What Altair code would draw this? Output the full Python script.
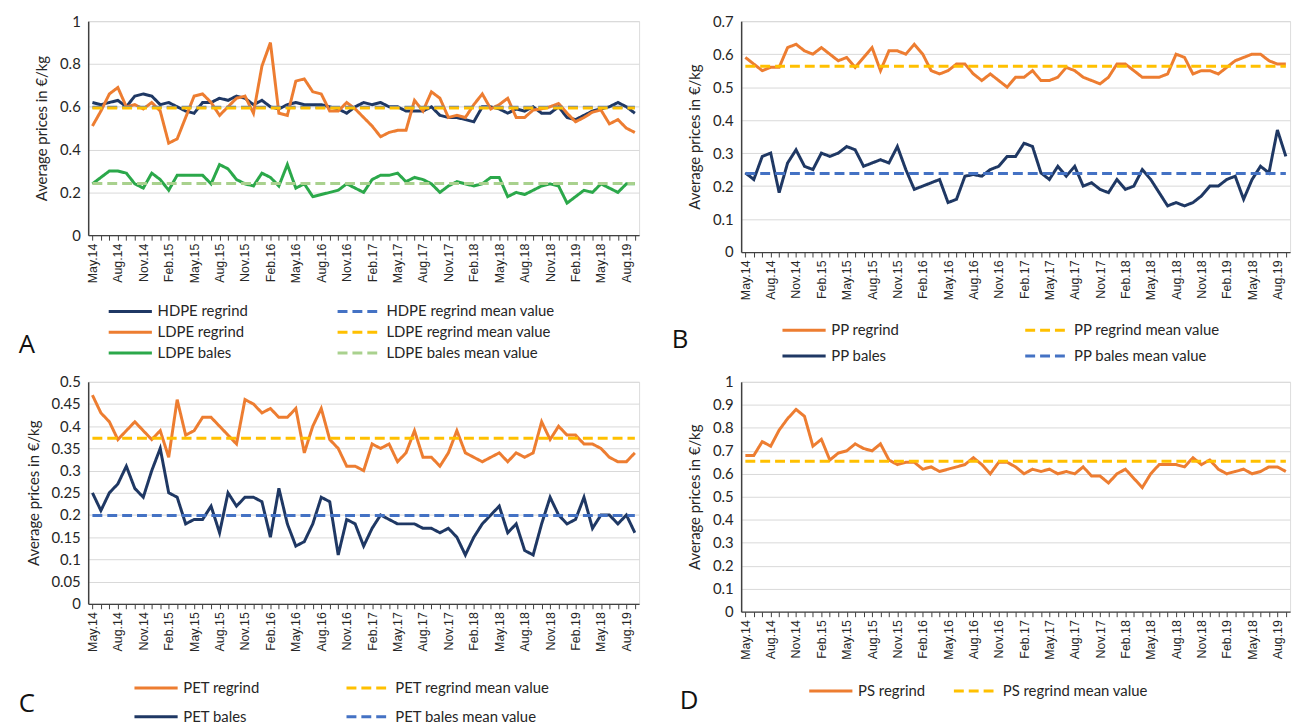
import json
import altair as alt
import pandas as pd

# ---------------- data ----------------
tick_labels = ["May.14", "Aug.14", "Nov.14", "Feb.15", "May.15", "Aug.15", "Nov.15", "Feb.16",
               "May.16", "Aug.16", "Nov.16", "Feb.17", "May.17", "Aug.17", "Nov.17", "Feb.18",
               "May.18", "Aug.18", "Nov.18", "Feb.19", "May.18", "Aug.19"]
n_months = 65  # May.14 ... Sep.19

hdpe_regrind = [0.62, 0.61, 0.62, 0.63, 0.60, 0.65, 0.66, 0.65, 0.61, 0.62, 0.60, 0.58, 0.57, 0.62, 0.62,
                0.64, 0.63, 0.65, 0.64, 0.61, 0.63, 0.60, 0.59, 0.61, 0.62, 0.61, 0.61, 0.61, 0.60, 0.59,
                0.57, 0.60, 0.62, 0.61, 0.62, 0.60, 0.60, 0.58, 0.58, 0.58, 0.60, 0.56, 0.55, 0.55, 0.54,
                0.53, 0.60, 0.60, 0.59, 0.57, 0.59, 0.58, 0.60, 0.57, 0.57, 0.60, 0.55, 0.54, 0.56, 0.58,
                0.59, 0.60, 0.62, 0.60, 0.57]
ldpe_regrind = [0.51, 0.58, 0.66, 0.69, 0.60, 0.61, 0.59, 0.62, 0.58, 0.43, 0.45, 0.55, 0.65, 0.66, 0.62,
                0.56, 0.60, 0.64, 0.65, 0.57, 0.79, 0.90, 0.57, 0.56, 0.72, 0.73, 0.67, 0.66, 0.58, 0.58,
                0.62, 0.59, 0.55, 0.51, 0.46, 0.48, 0.49, 0.49, 0.63, 0.58, 0.67, 0.64, 0.55, 0.56, 0.55,
                0.61, 0.66, 0.59, 0.61, 0.64, 0.55, 0.55, 0.585, 0.59, 0.60, 0.615, 0.57, 0.53, 0.55, 0.575,
                0.585, 0.52, 0.54, 0.50, 0.48]
ldpe_bales = [0.24, 0.27, 0.30, 0.30, 0.29, 0.24, 0.22, 0.29, 0.26, 0.21, 0.28, 0.28, 0.28, 0.28, 0.24,
              0.33, 0.31, 0.26, 0.24, 0.23, 0.29, 0.27, 0.23, 0.33, 0.22, 0.24, 0.18, 0.19, 0.20, 0.21,
              0.24, 0.22, 0.20, 0.26, 0.28, 0.28, 0.29, 0.25, 0.27, 0.26, 0.24, 0.20, 0.23, 0.25, 0.24,
              0.23, 0.24, 0.27, 0.27, 0.18, 0.20, 0.19, 0.21, 0.23, 0.24, 0.23, 0.15, 0.18, 0.21, 0.20,
              0.24, 0.22, 0.20, 0.24, 0.24]
a_means = [0.598, 0.594, 0.242]

pp_regrind = [0.59, 0.57, 0.55, 0.56, 0.56, 0.62, 0.63, 0.61, 0.60, 0.62, 0.60, 0.58, 0.59, 0.56, 0.59,
              0.62, 0.55, 0.61, 0.61, 0.60, 0.63, 0.60, 0.55, 0.54, 0.55, 0.57, 0.57, 0.54, 0.52, 0.54,
              0.52, 0.50, 0.53, 0.53, 0.55, 0.52, 0.52, 0.53, 0.56, 0.55, 0.53, 0.52, 0.51, 0.53, 0.57,
              0.57, 0.55, 0.53, 0.53, 0.53, 0.54, 0.60, 0.59, 0.54, 0.55, 0.55, 0.54, 0.56, 0.58, 0.59,
              0.60, 0.60, 0.58, 0.57, 0.57]
pp_bales = [0.24, 0.22, 0.29, 0.30, 0.18, 0.27, 0.31, 0.26, 0.25, 0.30, 0.29, 0.30, 0.32, 0.31, 0.26,
            0.27, 0.28, 0.27, 0.32, 0.25, 0.19, 0.20, 0.21, 0.22, 0.15, 0.16, 0.23, 0.235, 0.23, 0.25,
            0.26, 0.29, 0.29, 0.33, 0.32, 0.24, 0.22, 0.26, 0.23, 0.26, 0.20, 0.21, 0.19, 0.18, 0.22,
            0.19, 0.20, 0.25, 0.22, 0.18, 0.14, 0.15, 0.14, 0.15, 0.17, 0.20, 0.20, 0.22, 0.23, 0.16,
            0.22, 0.26, 0.24, 0.37, 0.29]
b_means = [0.563, 0.238]

pet_regrind = [0.47, 0.43, 0.41, 0.37, 0.39, 0.41, 0.39, 0.37, 0.39, 0.33, 0.46, 0.38, 0.39, 0.42, 0.42,
               0.40, 0.38, 0.36, 0.46, 0.45, 0.43, 0.44, 0.42, 0.42, 0.44, 0.34, 0.40, 0.44, 0.37, 0.35,
               0.31, 0.31, 0.30, 0.36, 0.35, 0.36, 0.32, 0.34, 0.39, 0.33, 0.33, 0.31, 0.34, 0.39, 0.34,
               0.33, 0.32, 0.33, 0.34, 0.32, 0.34, 0.33, 0.34, 0.41, 0.37, 0.40, 0.38, 0.38, 0.36, 0.36,
               0.35, 0.33, 0.32, 0.32, 0.34]
pet_bales = [0.25, 0.21, 0.25, 0.27, 0.31, 0.26, 0.24, 0.30, 0.35, 0.25, 0.24, 0.18, 0.19, 0.19, 0.22,
             0.16, 0.25, 0.22, 0.24, 0.24, 0.23, 0.15, 0.26, 0.18, 0.13, 0.14, 0.18, 0.24, 0.23, 0.11,
             0.19, 0.18, 0.13, 0.17, 0.20, 0.19, 0.18, 0.18, 0.18, 0.17, 0.17, 0.16, 0.17, 0.15, 0.11,
             0.15, 0.18, 0.20, 0.22, 0.16, 0.18, 0.12, 0.11, 0.18, 0.24, 0.20, 0.18, 0.19, 0.24, 0.17,
             0.20, 0.20, 0.18, 0.20, 0.16]
c_means = [0.373, 0.199]

ps_regrind = [0.68, 0.68, 0.74, 0.72, 0.79, 0.84, 0.88, 0.85, 0.72, 0.75, 0.66, 0.69, 0.70, 0.73, 0.71,
              0.70, 0.73, 0.66, 0.64, 0.65, 0.65, 0.62, 0.63, 0.61, 0.62, 0.63, 0.64, 0.67, 0.64, 0.60,
              0.65, 0.65, 0.63, 0.60, 0.62, 0.61, 0.62, 0.60, 0.61, 0.60, 0.63, 0.59, 0.59, 0.56, 0.60,
              0.62, 0.58, 0.54, 0.60, 0.64, 0.64, 0.64, 0.63, 0.67, 0.64, 0.66, 0.62, 0.60, 0.61, 0.62,
              0.60, 0.61, 0.63, 0.63, 0.61]
d_means = [0.655]

NAVY = "#1F3864"
ORANGE = "#ED7D31"
GREEN = "#2BA84A"
YELLOW = "#FFC000"
BLUE = "#4472C4"
LGREEN = "#A9D18E"
SOLID = [1, 0]
DASH = [10, 5]

label_expr = "datum.value % 3 === 0 ? " + json.dumps(tick_labels) + "[datum.value / 3] : ''"
TXT = "#262626"


def panel(series, means, colors, ytick_values, ymax, width, height,
          legend_x, legend_y, col_pad, row_pad, letter, letter_x, letter_y):
    rows = []
    for name, vals in series:
        for i, v in enumerate(vals):
            rows.append({"series": name, "idx": i, "value": v})
    df = pd.DataFrame(rows)
    mdf = pd.DataFrame([{"series": n, "value": v, "x0": 0, "x1": n_months - 1} for n, v in means])

    order = []
    dashes = []
    for (sn, _), (mn, _) in zip(series, means):
        order += [sn, mn]
        dashes += [SOLID, DASH]

    legend = alt.Legend(title=None, orient="none", legendX=legend_x, legendY=legend_y,
                        direction="horizontal", columns=2, symbolType="stroke", symbolSize=1900,
                        symbolStrokeWidth=3, clipHeight=16, labelFont="Lato", labelFontSize=15,
                        labelColor=TXT, labelLimit=300, columnPadding=col_pad, rowPadding=row_pad,
                        labelOffset=4)
    color = alt.Color("series:N", scale=alt.Scale(domain=order, range=colors), legend=legend)
    dash = alt.StrokeDash("series:N", scale=alt.Scale(domain=order, range=dashes), legend=legend)

    xenc = alt.X("idx:Q", scale=alt.Scale(domain=[-0.5, n_months - 0.5], nice=False, zero=False),
                 axis=alt.Axis(values=list(range(n_months)), tickCount=200, labelExpr=label_expr,
                               labelAngle=270, grid=False, title=None, labelOverlap=False,
                               tickColor="#404040", tickSize=5, domainColor="#404040", domainWidth=1.2,
                               labelFont="Liberation Sans", labelFontSize=12.5, labelColor=TXT,
                               labelPadding=3))
    yaxis = alt.Axis(values=ytick_values, tickCount=50, format="~g", title="Average prices in \u20ac/kg",
                     grid=True, gridColor="#D9D9D9", gridWidth=1, ticks=False, labelOverlap=False,
                     domainColor="#404040", domainWidth=1.5, labelFont="Lato", labelFontSize=15,
                     labelColor=TXT, labelPadding=8, titleFont="Lato", titleFontSize=15,
                     titleFontWeight="normal", titleColor=TXT, titlePadding=10)
    yscale = alt.Scale(domain=[0, ymax], nice=False)

    lines = alt.Chart(df).mark_line(strokeWidth=3).encode(
        x=xenc, y=alt.Y("value:Q", scale=yscale, axis=yaxis), color=color, strokeDash=dash,
        detail="series:N")
    mlines = alt.Chart(mdf).mark_rule(strokeWidth=3).encode(
        x="x0:Q", x2="x1:Q", y="value:Q", color=color, strokeDash=dash)
    letter_mark = alt.Chart(pd.DataFrame({"t": [letter]})).mark_text(
        font="Open Sans", fontSize=26, align="left", baseline="middle", color="#111111").encode(
        text="t:N", x=alt.value(letter_x), y=alt.value(letter_y))
    return alt.layer(lines, mlines, letter_mark).properties(width=width, height=height)


A = panel([("HDPE regrind", hdpe_regrind), ("LDPE regrind", ldpe_regrind), ("LDPE bales", ldpe_bales)],
          [("HDPE regrind mean value", a_means[0]), ("LDPE regrind mean value", a_means[1]),
           ("LDPE bales mean value", a_means[2])],
          [NAVY, BLUE, ORANGE, YELLOW, GREEN, LGREEN],
          [0, 0.2, 0.4, 0.6, 0.8, 1.0], 1.0, 556, 216, 19, 285, 88, 5, "A", -70, 327)

B = panel([("PP regrind", pp_regrind), ("PP bales", pp_bales)],
          [("PP regrind mean value", b_means[0]), ("PP bales mean value", b_means[1])],
          [ORANGE, YELLOW, NAVY, BLUE],
          [0, 0.1, 0.2, 0.3, 0.4, 0.5, 0.6, 0.7], 0.7, 554, 233, 40, 304, 125, 10, "B", -70, 322)

C = panel([("PET regrind", pet_regrind), ("PET bales", pet_bales)],
          [("PET regrind mean value", c_means[0]), ("PET bales mean value", c_means[1])],
          [ORANGE, YELLOW, NAVY, BLUE],
          [0, 0.05, 0.1, 0.15, 0.2, 0.25, 0.3, 0.35, 0.4, 0.45, 0.5], 0.5, 556, 224,
          45, 301, 85, 13, "C", -70, 325)

D = panel([("PS regrind", ps_regrind)], [("PS regrind mean value", d_means[0])],
          [ORANGE, YELLOW],
          [0, 0.1, 0.2, 0.3, 0.4, 0.5, 0.6, 0.7, 0.8, 0.9, 1.0], 1.0, 554, 232,
          67, 304, 27, 12, "D", -62, 322)

chart = alt.concat(A, B, C, D, columns=2, spacing={"row": 131, "column": 103}, bounds="flush").resolve_scale(
    color="independent", strokeDash="independent"
).resolve_legend(color="independent", strokeDash="independent").properties(
    padding={"left": 18, "top": 10, "right": 5, "bottom": 0}
).configure_view(stroke=None).configure(background="white")

chart.save("out.html", embed_options={"renderer": "svg", "actions": False})
